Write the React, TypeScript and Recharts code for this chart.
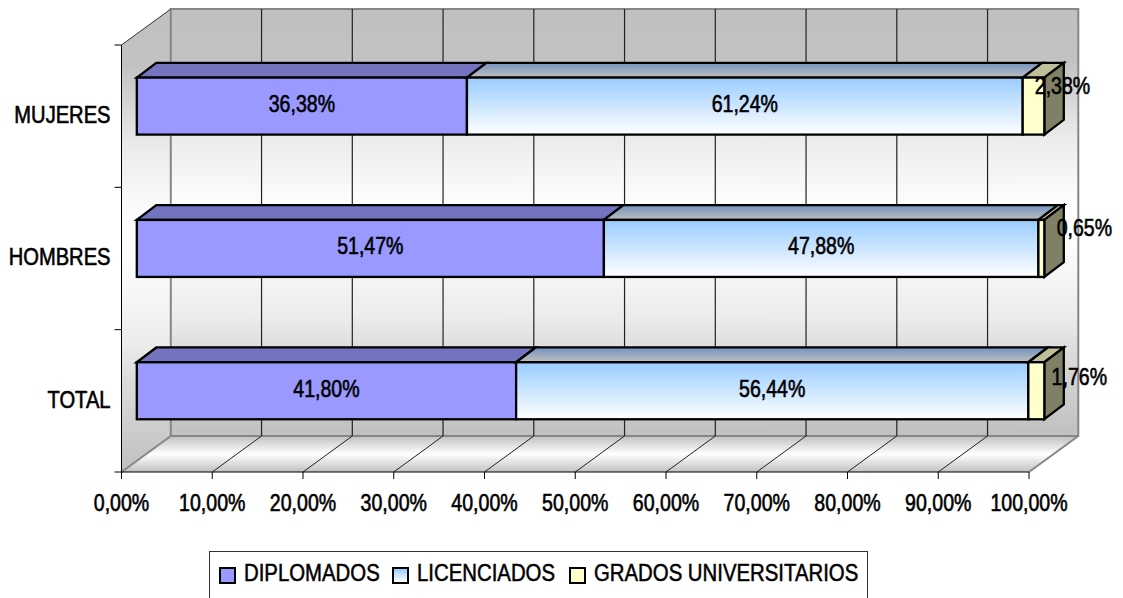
import { BarChart, Bar, XAxis, YAxis, CartesianGrid, Legend, LabelList } from "recharts";

const categories = ["MUJERES", "HOMBRES", "TOTAL"];
const diplomados = [36.38, 51.47, 41.8];
const licenciados = [61.24, 47.88, 56.44];
const grados = [2.38, 0.65, 1.76];
const xTicks = [0, 10, 20, 30, 40, 50, 60, 70, 80, 90, 100];

const data = categories.map((name, i) => ({
  name,
  diplomados: diplomados[i],
  licenciados: licenciados[i],
  grados: grados[i],
}));

const FONT = "'Liberation Sans', Arial, sans-serif";
const WIDTH = 1123;
const HEIGHT = 598;
// plot area = the front plane of the 3D box
const LEFT = 121.5;
const RIGHT = 1029;
const TOP = 45;
const BOTTOM = 472;
// wall depth and bar depth, Excel style oblique projection
const DX = 49.3;
const DY = -36;
const BAR_DX = 19.5;
const BAR_DY = -14.8;
const BAR_SHIFT_X = 15.3;
const BAR_SHIFT_Y = -10.4;

const fmt = (v: number) => v.toFixed(2).replace(".", ",") + "%";

// no Arial Narrow here, so squeeze the regular face sideways
function NarrowText({ x, y, anchor = "middle", squeeze = 0.85, children }: any) {
  return (
    <text
      transform={`translate(${x},${y}) scale(${squeeze},1)`}
      textAnchor={anchor}
      dominantBaseline="central"
      fontFamily={FONT}
      fontSize={23}
      fill="#000"
      stroke="#000"
      strokeWidth={0.6}
    >
      {children}
    </text>
  );
}

const wallStops = [
  [0, "#c0c0c0"],
  [0.12, "#c2c2c2"],
  [0.3, "#ebebeb"],
  [0.45, "#fdfdfd"],
  [0.55, "#fdfdfd"],
  [0.72, "#ececec"],
  [0.8, "#dcdcdc"],
  [1, "#c0c0c0"],
];

function Walls() {
  const bx0 = LEFT + DX;
  const bx1 = RIGHT + DX;
  const by0 = TOP + DY;
  const by1 = BOTTOM + DY;
  return (
    <svg width={WIDTH} height={HEIGHT} style={{ position: "absolute", left: 0, top: 0 }}>
      <defs>
        <linearGradient id="wallGrad" x1="0" y1="0" x2="0" y2="1">
          {wallStops.map(([o, c]) => (
            <stop key={o} offset={o} stopColor={c as string} />
          ))}
        </linearGradient>
        <linearGradient id="floorGrad" x1="0" y1="0" x2="0" y2="1">
          <stop offset="0" stopColor="#c0c0c0" />
          <stop offset="0.5" stopColor="#ffffff" />
          <stop offset="1" stopColor="#c0c0c0" />
        </linearGradient>
      </defs>
      <rect x={bx0} y={by0} width={bx1 - bx0} height={by1 - by0} fill="url(#wallGrad)" />
      <polygon points={`${LEFT},${TOP} ${bx0},${by0} ${bx0},${by1} ${LEFT},${BOTTOM}`} fill="url(#wallGrad)" />
      <polygon points={`${LEFT},${BOTTOM} ${bx0},${by1} ${bx1},${by1} ${RIGHT},${BOTTOM}`} fill="url(#floorGrad)" />
      <rect x={bx0} y={by0} width={bx1 - bx0} height={by1 - by0} fill="none" stroke="#868686" strokeWidth={2} />
      <line x1={LEFT} y1={BOTTOM} x2={bx0} y2={by1} stroke="#868686" strokeWidth={2} />
      <line x1={RIGHT} y1={BOTTOM} x2={bx1} y2={by1} stroke="#868686" strokeWidth={2} />
      <line x1={LEFT} y1={TOP} x2={bx0} y2={by0} stroke="#333" strokeWidth={1} />
    </svg>
  );
}

// grid line on the back wall plus its diagonal across the floor
function GridLine(props: any) {
  const { x1 } = props;
  if (x1 <= LEFT + 1 || x1 >= RIGHT - 1) return <g />;
  return (
    <g>
      <line x1={x1 + DX} y1={TOP + DY} x2={x1 + DX} y2={BOTTOM + DY} stroke="#222" strokeWidth={1.2} />
      <line x1={x1 + DX} y1={BOTTOM + DY} x2={x1} y2={BOTTOM} stroke="#222" strokeWidth={1} />
    </g>
  );
}

function makeBox(front: string, top: string, side?: string) {
  return (p: any) => {
    const x = p.x + BAR_SHIFT_X;
    const y = p.y + BAR_SHIFT_Y;
    const w = p.width;
    const h = p.height;
    return (
      <g stroke="#000" strokeWidth={2.3} strokeLinejoin="miter">
        <polygon
          points={`${x},${y} ${x + BAR_DX},${y + BAR_DY} ${x + w + BAR_DX},${y + BAR_DY} ${x + w},${y}`}
          fill={top}
        />
        {side && (
          <polygon
            points={`${x + w},${y} ${x + w + BAR_DX},${y + BAR_DY} ${x + w + BAR_DX},${y + h + BAR_DY} ${x + w},${y + h}`}
            fill={side}
          />
        )}
        <rect x={x} y={y} width={w} height={h} fill={front} />
      </g>
    );
  };
}

// the small segment labels sit where Excel pushed them, off the bar end
const SMALL_NUDGE = [
  { dx: 29, dy: -18 },
  { dx: 43, dy: -18 },
  { dx: 43, dy: -12 },
];

function makeLabel(small: boolean) {
  return (p: any) => {
    const nudge = small ? SMALL_NUDGE[p.index] : { dx: 0, dy: 0 };
    const cx = p.x + BAR_SHIFT_X + p.width / 2 + nudge.dx;
    const cy = p.y + BAR_SHIFT_Y + p.height / 2 - 1.5 + nudge.dy;
    return <NarrowText x={cx} y={cy}>{fmt(p.value)}</NarrowText>;
  };
}

function CategoryTick(props: any) {
  const { x, y, payload, index, height, visibleTicksCount } = props;
  const band = height / visibleTicksCount;
  return (
    <g>
      <line x1={LEFT - 7} x2={LEFT} y1={y - band / 2} y2={y - band / 2} stroke="#000" />
      {index === visibleTicksCount - 1 && (
        <line x1={LEFT - 7} x2={LEFT} y1={y + band / 2} y2={y + band / 2} stroke="#000" />
      )}
      <NarrowText x={x} y={y - 1} anchor="end" squeeze={0.875}>{payload.value}</NarrowText>
    </g>
  );
}

function ValueTick(props: any) {
  const { x, payload } = props;
  return <NarrowText x={x} y={BOTTOM + 31}>{fmt(payload.value)}</NarrowText>;
}

const swatches = [
  { label: "DIPLOMADOS", background: "#9999ff", swatchX: 9, textX: 34 },
  { label: "LICENCIADOS", background: "linear-gradient(#99ccff, #ffffff)", swatchX: 182, textX: 207 },
  { label: "GRADOS UNIVERSITARIOS", background: "#ffffcc", swatchX: 359, textX: 384 },
];

function LegendBox() {
  return (
    <div
      style={{
        position: "relative",
        boxSizing: "border-box",
        width: 659,
        height: 70,
        border: "1px solid #333",
        background: "#fff",
        fontFamily: FONT,
        fontSize: 23,
        color: "#000",
        whiteSpace: "nowrap",
        WebkitTextStroke: "0.5px #000",
      }}
    >
      {swatches.map((s) => (
        <span key={s.label}>
          <span
            style={{
              position: "absolute",
              left: s.swatchX,
              top: 15,
              boxSizing: "border-box",
              width: 17,
              height: 17,
              border: "2.5px solid #000",
              background: s.background,
              WebkitTextStroke: "0",
            }}
          />
          <span
            style={{
              position: "absolute",
              left: s.textX,
              top: 8,
              transform: "scaleX(0.885)",
              transformOrigin: "left center",
            }}
          >
            {s.label}
          </span>
        </span>
      ))}
    </div>
  );
}

export default function App() {
  return (
    <div style={{ position: "absolute", left: 0, top: 0, width: WIDTH, height: HEIGHT, overflow: "hidden", background: "#fff" }}>
      <Walls />
      <BarChart
        width={WIDTH}
        height={HEIGHT}
        data={data}
        layout="vertical"
        barSize={57}
        margin={{ top: TOP, left: 0, right: WIDTH - RIGHT, bottom: 0 }}
      >
        <defs>
          <linearGradient id="licFront" x1="0" y1="0" x2="0" y2="1">
            <stop offset="0" stopColor="#99ccff" />
            <stop offset="1" stopColor="#ffffff" />
          </linearGradient>
          <linearGradient id="licTop" x1="0" y1="0" x2="0" y2="1">
            <stop offset="0" stopColor="#7392bf" />
            <stop offset="1" stopColor="#bfbfbf" />
          </linearGradient>
        </defs>
        <CartesianGrid horizontal={false} vertical={(p: any) => <GridLine key={p.index} {...p} />} />
        <XAxis
          type="number"
          domain={[0, 100]}
          ticks={xTicks}
          interval={0}
          height={HEIGHT - BOTTOM}
          tick={ValueTick}
          tickSize={7}
          axisLine={{ stroke: "#000" }}
          tickLine={{ stroke: "#000" }}
        />
        <YAxis
          type="category"
          dataKey="name"
          width={LEFT}
          axisLine={{ stroke: "#000" }}
          tickLine={false}
          tickSize={0}
          tickMargin={11}
          tick={CategoryTick}
        />
        <Bar dataKey="diplomados" stackId="a" isAnimationActive={false} shape={makeBox("#9999ff", "#7373bf")}>
          <LabelList dataKey="diplomados" content={makeLabel(false)} />
        </Bar>
        <Bar dataKey="licenciados" stackId="a" isAnimationActive={false} shape={makeBox("url(#licFront)", "url(#licTop)")}>
          <LabelList dataKey="licenciados" content={makeLabel(false)} />
        </Bar>
        <Bar dataKey="grados" stackId="a" isAnimationActive={false} shape={makeBox("#ffffcc", "#bfbf99", "#808066")}>
          <LabelList dataKey="grados" content={makeLabel(true)} />
        </Bar>
        <Legend
          layout="horizontal"
          verticalAlign="middle"
          align="center"
          content={<LegendBox />}
          wrapperStyle={{ left: 209, top: 551, width: 659, height: 70 }}
        />
      </BarChart>
    </div>
  );
}
